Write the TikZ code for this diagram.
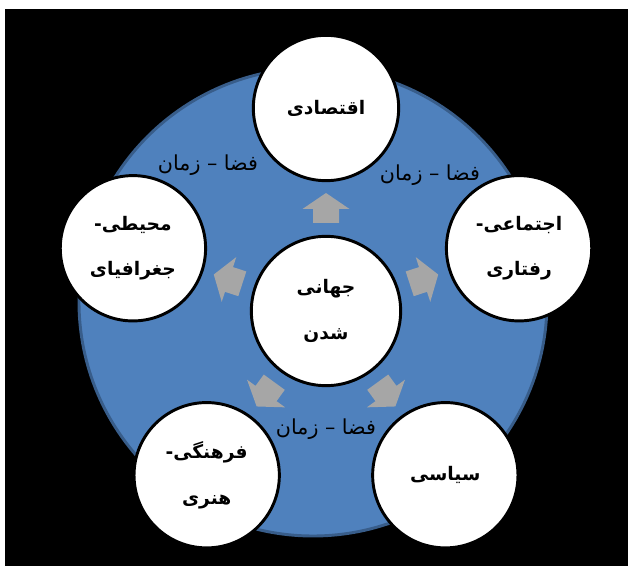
\documentclass[tikz,border=0pt]{standalone}
\usepackage{fontspec}
\newfontfamily\farsifont[Script=Arabic]{DejaVu Sans}
\TeXXeTstate=1
\usetikzlibrary{calc}
\definecolor{ringblue}{HTML}{4F81BD}
\definecolor{ringedge}{HTML}{385D8A}
\definecolor{spokegray}{HTML}{A6A6A6}

\begin{document}
\begin{tikzpicture}[
    x=0.75pt, y=0.75pt,
    topic/.style={draw, circle, line width=2.2pt, fill=white, minimum size=109pt, inner sep=0pt, align=center, font=\farsifont\bfseries\fontsize{14}{34}\selectfont},
    hubtopic/.style={topic, minimum size=112pt},
    spoke/.style={fill=spokegray},
    spacetime/.style={inner sep=0pt, font=\farsifont\fontsize{15.5}{16}\selectfont}
]
  % Background
  \useasboundingbox (0,0) rectangle (632,572);
  \fill[white] (0,0) rectangle (632,572);
  \fill[black] (5,6) rectangle (628,563);
  \node (ring) [circle, draw=ringedge, fill=ringblue, line width=2.2pt, minimum size=351pt] at (313,270) {};

  % Nodes
  \node (hub) [hubtopic] at (326,261) {\beginR جهانی\endR\\\beginR شدن\endR};

  % Arrows
  \foreach \ang in {90,18,306,234,162}
    \fill[spoke, shift={(hub.center)}, rotate=\ang]
      (88,-13) -- (102,-13) -- (102,-23.5) -- (118,0) -- (102,23.5) -- (102,13) -- (88,13) -- cycle;

  \node (econ) [topic] at ($(hub)+(90:203)$) {\beginR اقتصادی\endR};
  \node (social) [topic] at ($(hub)+(18:203)$) {\beginR اجتماعی-\endR\\\beginR رفتاری\endR};
  \node (politic) [topic] at ($(hub)+(306:203)$) {\beginR سیاسی\endR};
  \node (culture) [topic] at ($(hub)+(234:203)$) {\beginR فرهنگی-\endR\\\beginR هنری\endR};
  \node (environ) [topic] at ($(hub)+(162:203)$) {\beginR محیطی-\endR\\\beginR جغرافیای\endR};

  % Labels
  \node (st1) [spacetime] at (208,407) {\beginR فضا – زمان\endR};
  \node (st2) [spacetime] at (430,397) {\beginR فضا – زمان\endR};
  \node (st3) [spacetime] at (326,143) {\beginR فضا – زمان\endR};
\end{tikzpicture}
\end{document}
